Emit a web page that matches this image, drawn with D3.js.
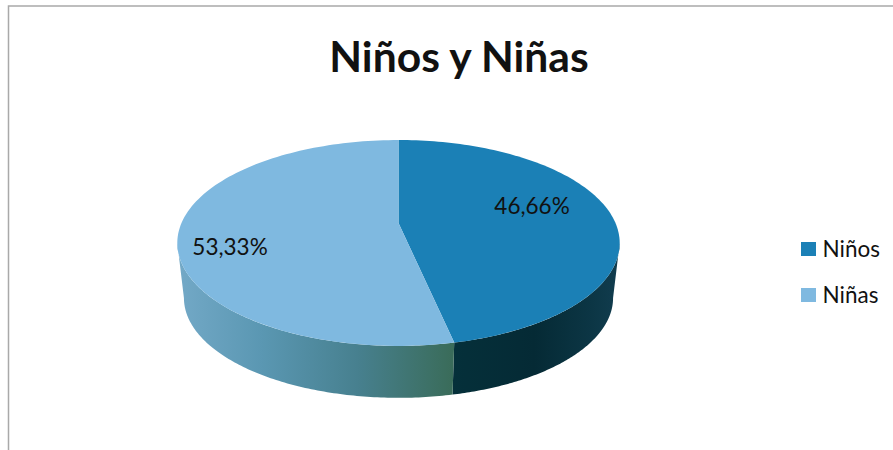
<!DOCTYPE html>
<html><head><meta charset="utf-8">
<script src="https://cdn.jsdelivr.net/npm/d3@7"></script>
<style>html,body{margin:0;padding:0;background:#fff;overflow:hidden}svg{display:block}text{font-family:Lato,"Open Sans",sans-serif;fill:#111}</style>
</head><body><svg id="c" width="893" height="450"></svg>
<script>
const titleText = "Niños y Niñas";
const categories = ["Niños", "Niñas"];
const values = [46.66, 53.33];
const valueLabels = ["46,66%", "53,33%"];
const topColors = ["#1b80b6", "#7fb9e0"];

const svg = d3.select("#c");
const defs = svg.append("defs");
const cx = 398.5, hubY = 223, A = 217, a = 55.8, c = -0.194, midY = 243, k = 0.97, depth = 55;
const topPt = th => { const s = Math.sin(th), t = -Math.cos(th), w = 1 + c * t; return [cx + A * s / w, (hubY + a * t) / w]; };
const botPt = th => { const [x, y] = topPt(th); return [cx + (x - cx) * k, midY + (y - midY) * k + depth]; };
const line = d3.line();
const sweep = (f, a0, a1) => d3.range(0, 121).map(i => f(a0 + (a1 - a0) * i / 120));

const arcs = d3.pie().sort(null).value(d => d)(values);

// frame
svg.append("path").attr("d", "M8.5,450V6H893").attr("fill", "none").attr("stroke", "#a9a9a9").attr("stroke-width", 1.5);

// side wall gradients
const sideStops = [
  [[0, "#05303a"], [0.5, "#052a35"], [0.85, "#0c3645"], [1, "#113c4e"]],
  [[0, "#72a8c6"], [0.3, "#5a97b2"], [0.65, "#47808f"], [1, "#3a6c5a"]]
];
const sideX = [[452, 617], [181, 452]];
sideStops.forEach((stops, i) => {
  const g = defs.append("linearGradient").attr("id", "side" + i).attr("gradientUnits", "userSpaceOnUse")
    .attr("x1", sideX[i][0]).attr("x2", sideX[i][1]).attr("y1", 0).attr("y2", 0);
  stops.forEach(s => g.append("stop").attr("offset", s[0]).attr("stop-color", s[1]));
});

// visible side walls: between the two silhouette angles of the cylinder
const tangent = Math.acos(c);
const frontStart = tangent, frontEnd = 2 * Math.PI - tangent;
arcs.forEach((d, i) => {
  const a0 = Math.max(d.startAngle, frontStart), a1 = Math.min(d.endAngle, frontEnd);
  const pts = sweep(topPt, a0, a1).concat(sweep(botPt, a0, a1).reverse());
  svg.append("path").attr("d", line(pts) + "Z").attr("fill", `url(#side${i})`);
});

// top faces
arcs.forEach((d, i) => {
  const pts = [[cx, hubY]].concat(sweep(topPt, d.startAngle, d.endAngle));
  svg.append("path").attr("d", line(pts) + "Z").attr("fill", topColors[i]);
});

// title
svg.append("text").attr("x", 459).attr("y", 72).attr("text-anchor", "middle")
  .attr("font-size", 42.6).attr("font-weight", 700).text(titleText);

// value labels
const labelPos = [[532, 214], [230, 255]];
valueLabels.forEach((t, i) => svg.append("text").attr("x", labelPos[i][0]).attr("y", labelPos[i][1])
  .attr("text-anchor", "middle").attr("font-size", 22.5).text(t));

// legend
const legY = d3.scalePoint().domain(categories).range([249, 295]);
categories.forEach((n, i) => {
  svg.append("rect").attr("x", 801).attr("y", legY(n) - 7).attr("width", 15).attr("height", 14).attr("fill", topColors[i]);
  svg.append("text").attr("x", 822.5).attr("y", legY(n) + 8).attr("font-size", 22.5).text(n);
});
</script></body></html>
